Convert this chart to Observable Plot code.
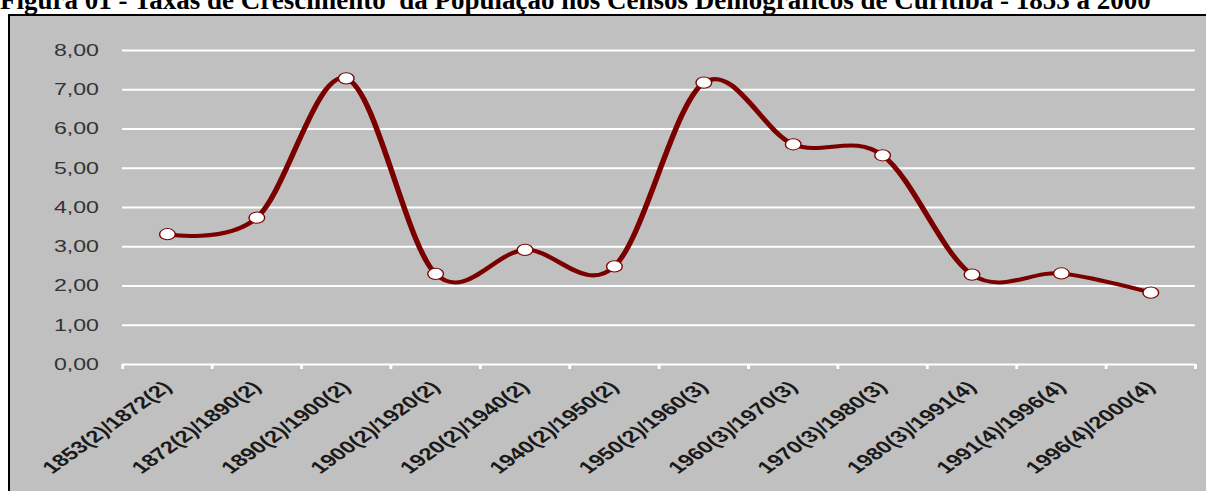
<!DOCTYPE html>
<html>
<head>
<meta charset="utf-8">
<script src="https://cdn.jsdelivr.net/npm/d3@7"></script>
<script src="https://cdn.jsdelivr.net/npm/@observablehq/plot@0.6"></script>
<style>
  html, body { margin: 0; padding: 0; background: #fff; overflow: hidden; width: 1206px; height: 491px; }
  #title { position: absolute; left: 0px; top: -13px; font: bold 27px "Liberation Serif", "Times New Roman", serif; line-height: 27px; white-space: pre; color: #000; }
  #frame { position: absolute; left: 8px; top: 14px; width: 1200px; height: 480px; border-left: 2px solid #000; border-top: 2px solid #000; background: #c0c0c0; }
  #frame svg { display: block; }
</style>
</head>
<body>
<div id="title">Figura 01 - Taxas de Crescimento  da População nos Censos Demográficos de Curitiba - 1853 a 2000</div>
<div id="frame"></div>
<script>
const periods = ["1853(2)/1872(2)", "1872(2)/1890(2)", "1890(2)/1900(2)", "1900(2)/1920(2)", "1920(2)/1940(2)", "1940(2)/1950(2)", "1950(2)/1960(3)", "1960(3)/1970(3)", "1970(3)/1980(3)", "1980(3)/1991(4)", "1991(4)/1996(4)", "1996(4)/2000(4)"];
const rates = [3.32, 3.74, 7.29, 2.31, 2.92, 2.50, 7.18, 5.61, 5.33, 2.29, 2.32, 1.83];
const yTicks = [0, 1, 2, 3, 4, 5, 6, 7, 8];

const data = periods.map((p, i) => ({i, period: p, rate: rates[i]}));
const idx = periods.map((p, i) => i);
const bounds = [...idx.map(i => i - 0.5), periods.length - 0.5];

const W = 854, H = 475, PAGEW = 1196;
const red = "#7a0000";

const chart = Plot.plot({
  width: W,
  height: H,
  marginLeft: 80,
  marginRight: 8,
  marginTop: 34,
  marginBottom: 127,
  style: {background: "transparent", fontFamily: "'Liberation Sans', Arial, sans-serif", overflow: "visible"},
  x: {domain: [-0.5, periods.length - 0.5], label: null},
  y: {domain: [0, 8], label: null},
  marks: [
    Plot.ruleY(yTicks, {stroke: "#ffffff", strokeWidth: 2}),
    Plot.axisY({ticks: yTicks, tickSize: 0, tickPadding: 17, fontSize: 16.5, fill: "#333", label: null,
      tickFormat: d => d.toFixed(2).replace(".", ",")}),
    Plot.axisX({ticks: bounds, tickSize: 5, stroke: "#ffffff", strokeWidth: 2, tickFormat: () => "", label: null}),
    Plot.axisX({ticks: idx, tickSize: 0, tickPadding: 20, tickRotate: -45, fontSize: 17, fontWeight: "bold", fill: "#1a1a1a",
      tickFormat: i => periods[i], label: null}),
    Plot.line(data, {x: "i", y: "rate", curve: "cardinal", stroke: red, strokeWidth: 4}),
    Plot.dot(data, {x: "i", y: "rate", r: 5.6, fill: "#ffffff", stroke: red, strokeWidth: 1})
  ]
});
chart.setAttribute("width", PAGEW);
chart.setAttribute("height", H);
chart.setAttribute("preserveAspectRatio", "none");
chart.style.width = PAGEW + "px";
chart.style.height = H + "px";
chart.style.maxWidth = "none";
document.getElementById("frame").appendChild(chart);
</script>
</body>
</html>
